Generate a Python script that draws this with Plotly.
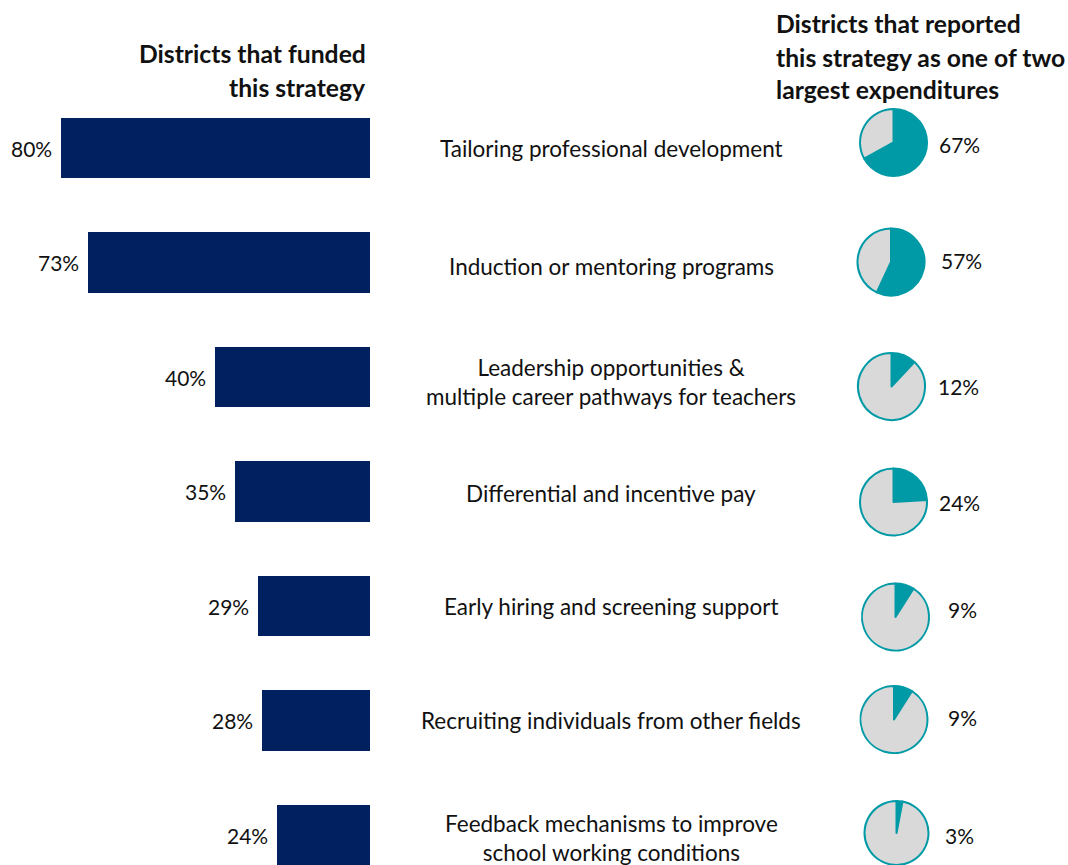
import plotly.graph_objects as go

# Strategies, in display order (top to bottom)
strategies = [
    "Tailoring professional development",
    "Induction or mentoring programs",
    "Leadership opportunities &<br>multiple career pathways for teachers",
    "Differential and incentive pay",
    "Early hiring and screening support",
    "Recruiting individuals from other fields",
    "Feedback mechanisms to improve<br>school working conditions",
]
# Share of districts that funded each strategy (%)
funded_pct = [80, 73, 40, 35, 29, 28, 24]
# Share reporting the strategy as one of two largest expenditures (%)
largest_pct = [67, 57, 12, 24, 9, 9, 3]

header_left = ["Districts that funded", "this strategy"]
header_right = ["Districts that reported", "this strategy as one of two", "largest expenditures"]

NAVY = "#002060"
TEAL = "#009AA6"
GREY = "#D9D9D9"
FONT = "Lato"
TXT = "#111111"

W, H = 1068, 865
row_px0, row_step = 148, 114.5
rows = list(range(len(strategies)))

fig = go.Figure()

# Left bar chart, growing leftwards from a common baseline
fig.add_trace(go.Bar(
    x=funded_pct, y=rows, orientation="h",
    marker=dict(color=NAVY, line=dict(width=0)),
    width=0.525,
    hoverinfo="skip",
))

# Pie charts, one per strategy
pie_centers = [(893.5, 142.5), (891, 262), (891.5, 386.5), (893.5, 502),
               (895.5, 617), (894, 719.5), (896.5, 834.5)]
r = 33.5
clamp = lambda v: min(1.0, max(0.0, v))
for (cx, cy), v in zip(pie_centers, largest_pct):
    fig.add_trace(go.Pie(
        values=[v, 100 - v],
        marker=dict(colors=[TEAL, GREY], line=dict(color=TEAL, width=2)),
        sort=False, direction="clockwise", rotation=0,
        textinfo="none", hoverinfo="skip", showlegend=False,
        domain=dict(x=[clamp((cx - r) / W), clamp((cx + r) / W)],
                    y=[clamp(1 - (cy + r) / H), clamp(1 - (cy - r) / H)]),
    ))

annotations = []
# Value labels at the outer end of each bar
for i, v in enumerate(funded_pct):
    annotations.append(dict(
        x=v, xref="x", y=i, yref="y",
        text=f"{v}%", showarrow=False, xanchor="right", yanchor="middle",
        xshift=-7, font=dict(family=FONT, size=21, color=TXT),
    ))

# Strategy names in the middle column
label_offsets = [0, 4, 5, 2, 0, 0, 3]
for i, (name, off) in enumerate(zip(strategies, label_offsets)):
    annotations.append(dict(
        x=611 / W, xref="paper", y=i + off / row_step, yref="y",
        text=name, showarrow=False, xanchor="center", yanchor="middle",
        font=dict(family=FONT, size=22.5, color=TXT),
    ))

# Percent labels to the right of each pie
pie_label_x = [937, 939, 936, 937, 946, 946, 943]
pie_label_y = [145, 260, 386, 502, 609, 717, 835]
for v, lx, ly in zip(largest_pct, pie_label_x, pie_label_y):
    annotations.append(dict(
        x=lx / W, xref="paper", y=1 - ly / H, yref="paper",
        text=f"{v}%", showarrow=False, xanchor="left", yanchor="middle",
        font=dict(family=FONT, size=21, color=TXT),
    ))

# Column headers
for line, ly in zip(header_left, [53, 87]):
    annotations.append(dict(
        x=368 / W, xref="paper", y=1 - ly / H, yref="paper",
        text=f"<b>{line}</b>", showarrow=False, xanchor="right", yanchor="middle",
        font=dict(family=FONT, size=24.7, color=TXT),
    ))
for line, ly in zip(header_right, [23, 57, 89]):
    annotations.append(dict(
        x=774 / W, xref="paper", y=1 - ly / H, yref="paper",
        text=f"<b>{line}</b>", showarrow=False, xanchor="left", yanchor="middle",
        font=dict(family=FONT, size=24.7, color=TXT),
    ))

y_top = -row_px0 / row_step
y_bot = (H - row_px0) / row_step

fig.update_layout(
    width=W, height=H,
    margin=dict(l=0, r=0, t=0, b=0),
    paper_bgcolor="white", plot_bgcolor="white",
    showlegend=False,
    bargap=0,
    xaxis=dict(domain=[0, 370 / W], range=[370 / 3.865, 0],
               visible=False, fixedrange=True),
    yaxis=dict(domain=[0, 1], range=[y_bot, y_top],
               visible=False, fixedrange=True),
    annotations=annotations,
)

fig.write_html("out.html")
